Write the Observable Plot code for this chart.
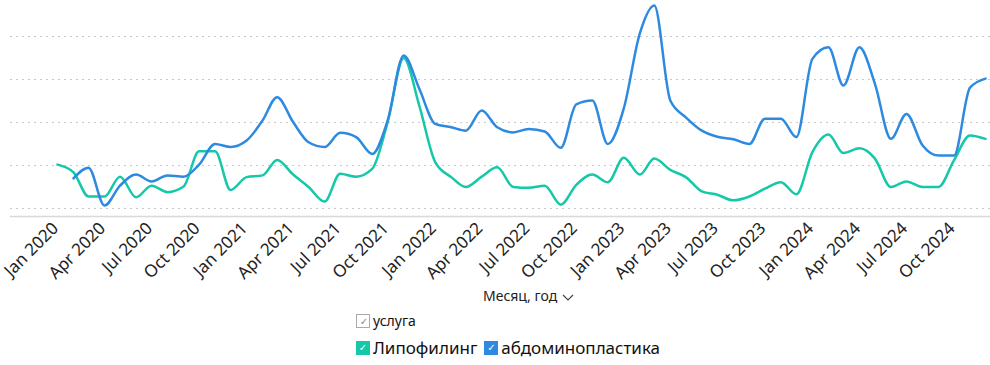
<!DOCTYPE html>
<html>
<head>
<meta charset="utf-8">
<script src="https://cdn.jsdelivr.net/npm/d3@7"></script>
<script src="https://cdn.jsdelivr.net/npm/@observablehq/plot@0.6"></script>
<style>
  html, body { margin: 0; padding: 0; background: #fff; }
  body { width: 990px; height: 365px; position: relative; overflow: hidden; font-family: "Noto Sans", sans-serif; }
  #chart { position: absolute; left: 0; top: 0; }
  .xtitle { position: absolute; left: 483px; top: 286px; font-size: 14px; color: #222; white-space: nowrap; }
  .xtitle svg { vertical-align: middle; margin-left: 4px; }
  .legend { position: absolute; left: 356px; color: #111; display: flex; align-items: center; white-space: nowrap; }
  .box { display: inline-block; width: 14px; height: 14px; box-sizing: border-box; position: relative; margin-right: 3px; }
  .box span { position: absolute; left: 0; top: -1px; width: 14px; text-align: center; font-size: 10px; line-height: 16px; font-family: "DejaVu Sans", sans-serif; }
</style>
</head>
<body>
<div id="chart"></div>
<div class="xtitle">Месяц, год<svg width="14" height="10" viewBox="0 0 14 10"><polyline points="2,3 7,8 12,3" fill="none" stroke="#444" stroke-width="1.2"/></svg></div>
<div class="legend" style="top:311px;font-size:14px;"><span class="box" style="border:1px solid #aaa;background:#fff;"><span style="color:#888">✓</span></span>услуга</div>
<div class="legend" style="top:336px;font-size:17px;">
  <span class="box" style="background:#14c8a8;"><span style="color:#fff">✓</span></span>Липофилинг
  <span class="box" style="background:#2e8ae0;margin-left:7px;"><span style="color:#fff">✓</span></span>абдоминопластика
</div>
<script>
const months = [
  "2020-01","2020-02","2020-03","2020-04","2020-05","2020-06","2020-07","2020-08","2020-09","2020-10","2020-11","2020-12",
  "2021-01","2021-02","2021-03","2021-04","2021-05","2021-06","2021-07","2021-08","2021-09","2021-10","2021-11","2021-12",
  "2022-01","2022-02","2022-03","2022-04","2022-05","2022-06","2022-07","2022-08","2022-09","2022-10","2022-11","2022-12",
  "2023-01","2023-02","2023-03","2023-04","2023-05","2023-06","2023-07","2023-08","2023-09","2023-10","2023-11","2023-12",
  "2024-01","2024-02","2024-03","2024-04","2024-05","2024-06","2024-07","2024-08","2024-09","2024-10","2024-11","2024-12"
];
const seriesNames = ["Липофилинг", "абдоминопластика"];
const lipofilingValues = [
  10.2, 8.4, 2.8, 2.8, 7.4, 2.6, 5.3, 3.8, 5.1, 13.3, 13.3, 4.3,
  7.3, 7.7, 11.3, 7.9, 5.0, 1.6, 8.1, 7.4, 9.2, 20.1, 35.0, 24.0,
  10.8, 7.3, 5.0, 7.4, 9.6, 5.0, 4.8, 5.3, 0.9, 5.5, 7.9, 6.1,
  11.8, 7.9, 11.6, 9.0, 7.3, 4.0, 3.2, 1.9, 2.8, 4.6, 6.1, 3.3,
  13.1, 17.2, 12.9, 14.0, 11.6, 5.0, 6.3, 5.0, 5.0, 11.2, 17.0, 16.2
];
const abdominoplastyValues = [
  null, 7.0, 9.5, 0.7, 5.3, 7.9, 6.3, 7.7, 7.4, 10.2, 15.0, 14.3,
  15.8, 20.5, 25.9, 20.1, 15.4, 14.3, 17.6, 16.6, 12.7, 20.5, 35.6, 27.9,
  19.7, 18.9, 18.1, 22.8, 18.9, 17.7, 18.5, 17.9, 14.1, 24.2, 25.1, 15.0,
  23.3, 40.7, 47.2, 25.1, 21.2, 18.1, 16.7, 16.1, 15.0, 20.9, 20.9, 16.6,
  34.8, 37.5, 28.6, 37.5, 29.0, 16.2, 22.0, 14.7, 12.3, 12.3, 28.1, 30.2
];
const gridValues = [0, 10, 20, 30, 40];
const tickMonths = ["2020-01","2020-04","2020-07","2020-10","2021-01","2021-04","2021-07","2021-10",
  "2022-01","2022-04","2022-07","2022-10","2023-01","2023-04","2023-07","2023-10","2024-01","2024-04","2024-07","2024-10"];
const colors = ["#14c8a8", "#2e8ae0"];

const parse = d3.utcParse("%Y-%m");
const rows = [];
months.forEach((m, i) => {
  rows.push({date: parse(m), value: lipofilingValues[i], series: seriesNames[0]});
  if (abdominoplastyValues[i] != null) rows.push({date: parse(m), value: abdominoplastyValues[i], series: seriesNames[1]});
});

const chart = Plot.plot({
  width: 990,
  height: 285,
  marginLeft: 10,
  marginRight: 0,
  marginTop: 0,
  marginBottom: 69,
  style: {fontFamily: "Noto Sans, sans-serif", fontSize: "17px", color: "#222", background: "#fff"},
  x: {type: "utc", domain: [parse(months[0]), parse(months[months.length - 1])], range: [57, 985]},
  y: {domain: [0, 40], range: [208, 36], axis: null},
  color: {domain: seriesNames, range: colors},
  marks: [
    Plot.ruleY(gridValues, {stroke: "#c8c8c8", strokeDasharray: "2,4", strokeWidth: 1}),
    Plot.frame({anchor: "bottom", stroke: "#d9d9d9", strokeWidth: 1.5}),
    Plot.axisX({
      ticks: tickMonths.map(parse),
      tickFormat: d3.utcFormat("%b %Y"),
      tickRotate: -45,
      tickSize: 0,
      tickPadding: 9,
      dx: -2,
      label: null,
      fill: "#222"
    }),
    Plot.line(rows, {x: "date", y: "value", z: "series", stroke: "series", strokeWidth: 2.5, curve: "monotone-x"})
  ]
});
document.getElementById("chart").appendChild(chart);
</script>
</body>
</html>
